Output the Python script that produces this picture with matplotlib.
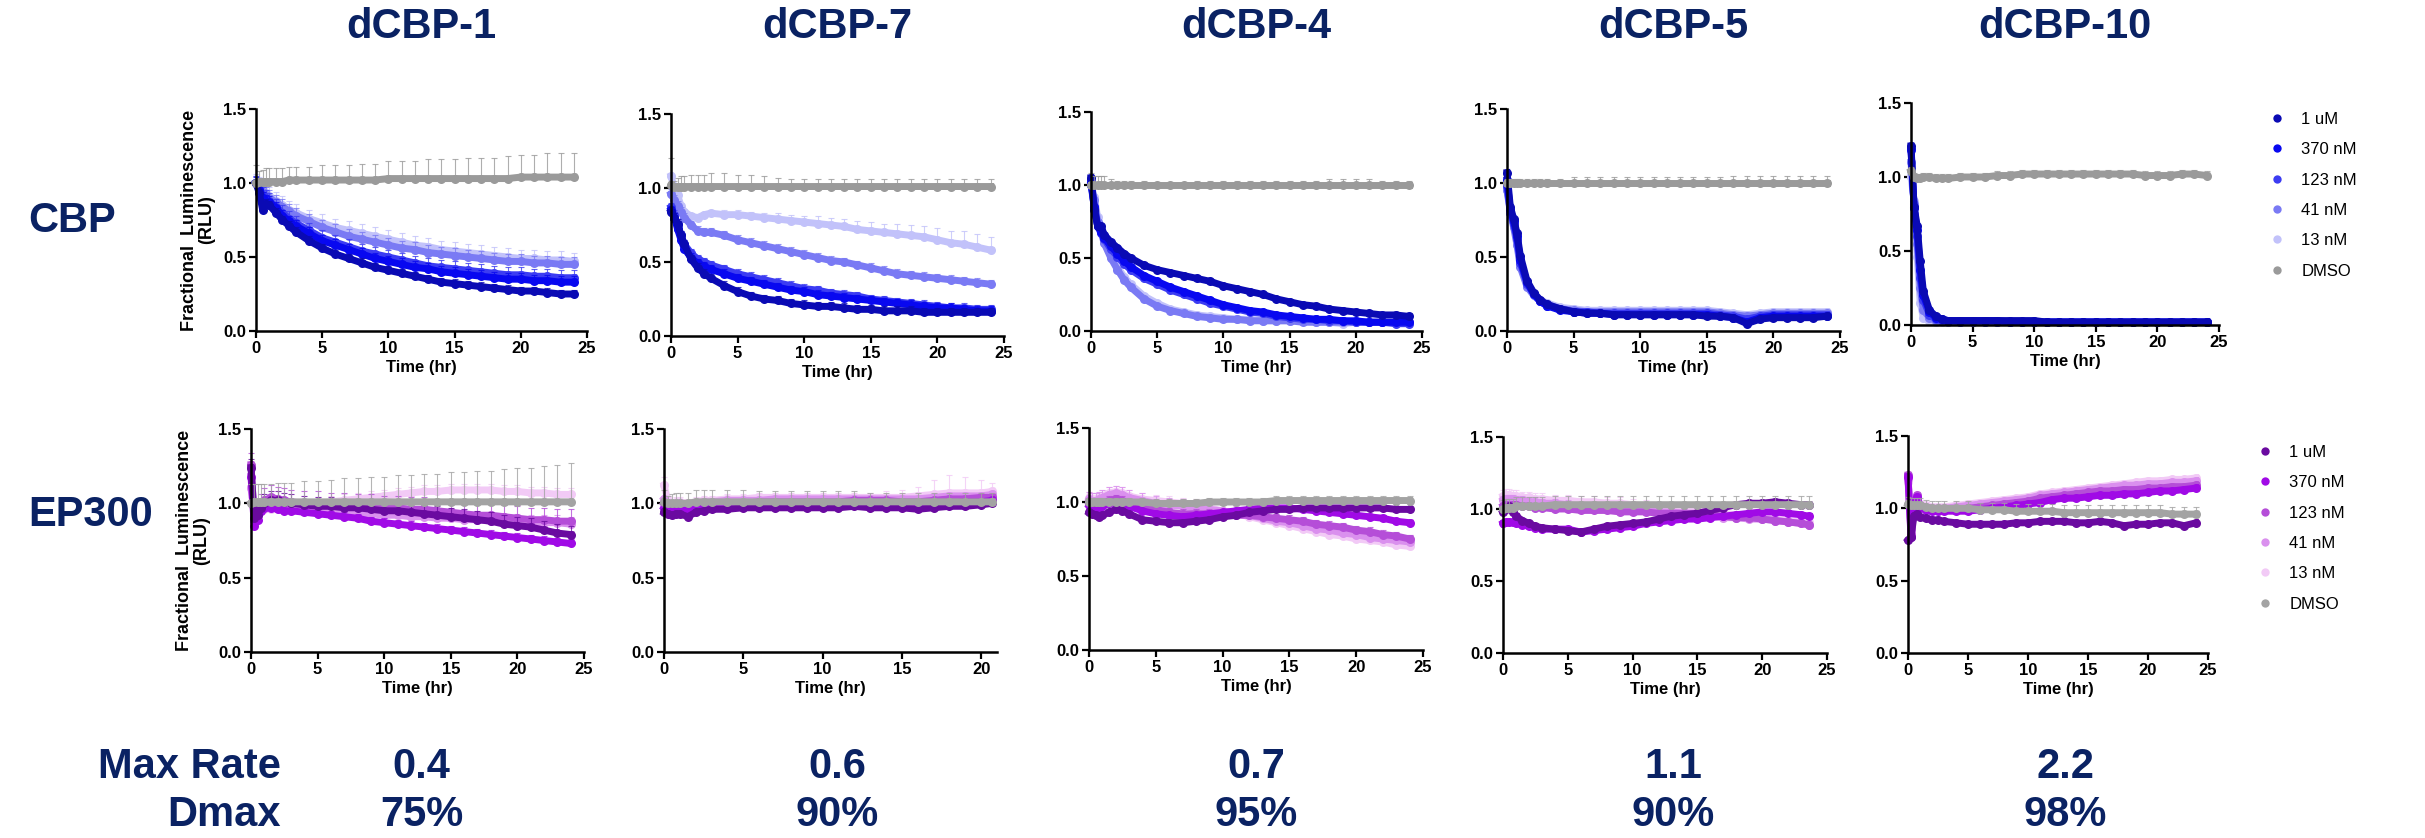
import numpy as np
import matplotlib
matplotlib.use('Agg')
import matplotlib.pyplot as plt
from matplotlib.lines import Line2D

plt.rcParams['font.family'] = ['Liberation Sans', 'DejaVu Sans']

# ---- labels ----
compounds = ['dCBP-1', 'dCBP-7', 'dCBP-4', 'dCBP-5', 'dCBP-10']
max_rate = ['0.4', '0.6', '0.7', '1.1', '2.2']
dmax = ['75%', '90%', '95%', '90%', '98%']
doses = ['1 uM', '370 nM', '123 nM', '41 nM', '13 nM', 'DMSO']

# ---- time points (hr) ----
t_all = [0, 0.25, 0.5, 0.75, 1, 1.5, 2, 2.5, 3, 4, 5, 6, 7, 8, 9, 10, 11, 12,
         13, 14, 15, 16, 17, 18, 19, 20, 21, 22, 23, 24]
t_ep300_d7 = [0, 0.25, 0.5, 0.75, 1, 1.5, 2, 2.5, 3, 4, 5, 6, 7, 8, 9, 10, 11,
              12, 13, 14, 15, 16, 17, 18, 19, 20, 20.7]
t_ep300_d5 = [0, 0.25, 0.5, 0.75, 1, 1.5, 2, 2.5, 3, 4, 5, 6, 7, 8, 9, 10, 11,
              12, 13, 14, 15, 16, 17, 18, 19, 20, 21, 22, 23, 23.6]

# ---- CBP row (rows: 1 uM, 370 nM, 123 nM, 41 nM, 13 nM, DMSO) ----
cbp_d1 = [
    [1.00, 0.93, 0.82, 0.86, 0.85, 0.80, 0.75, 0.71, 0.67, 0.61, 0.56, 0.52, 0.49, 0.46, 0.43,
     0.41, 0.39, 0.37, 0.35, 0.33, 0.32, 0.31, 0.30, 0.29, 0.28, 0.27, 0.27, 0.26, 0.25, 0.25],
    [1.00, 0.95, 0.90, 0.88, 0.87, 0.83, 0.78, 0.74, 0.71, 0.66, 0.61, 0.58, 0.55, 0.52, 0.49,
     0.47, 0.45, 0.43, 0.42, 0.40, 0.39, 0.38, 0.37, 0.36, 0.35, 0.35, 0.34, 0.34, 0.33, 0.33],
    [1.00, 0.96, 0.92, 0.90, 0.88, 0.84, 0.80, 0.76, 0.73, 0.68, 0.63, 0.60, 0.57, 0.54, 0.52,
     0.50, 0.48, 0.46, 0.44, 0.43, 0.42, 0.41, 0.40, 0.39, 0.38, 0.38, 0.37, 0.37, 0.36, 0.36],
    [1.00, 0.97, 0.94, 0.92, 0.90, 0.87, 0.84, 0.81, 0.78, 0.74, 0.70, 0.67, 0.64, 0.62, 0.60,
     0.58, 0.56, 0.55, 0.53, 0.52, 0.51, 0.50, 0.49, 0.48, 0.47, 0.47, 0.46, 0.46, 0.45, 0.45],
    [1.00, 0.98, 0.95, 0.93, 0.91, 0.88, 0.85, 0.82, 0.80, 0.76, 0.73, 0.70, 0.68, 0.66, 0.64,
     0.62, 0.60, 0.58, 0.57, 0.55, 0.54, 0.53, 0.52, 0.51, 0.50, 0.49, 0.49, 0.48, 0.48, 0.47],
    [1.00, 1.01, 1.01, 1.01, 1.01, 1.01, 1.01, 1.02, 1.02, 1.02, 1.02, 1.02, 1.02, 1.02, 1.02,
     1.03, 1.03, 1.03, 1.03, 1.03, 1.03, 1.03, 1.03, 1.03, 1.03, 1.04, 1.04, 1.04, 1.04, 1.04],
]
cbp_d1_err = [0.03, 0.04, 0.05, 0.05, 0.06,
              [0.12, 0.07, 0.08, 0.09, 0.09, 0.09, 0.09, 0.09, 0.09, 0.09, 0.10, 0.10, 0.10, 0.11, 0.11,
               0.12, 0.12, 0.12, 0.13, 0.13, 0.13, 0.14, 0.14, 0.14, 0.15, 0.15, 0.15, 0.16, 0.16, 0.16]]

cbp_d7 = [
    [0.84, 0.80, 0.76, 0.68, 0.62, 0.52, 0.46, 0.42, 0.39, 0.34, 0.30, 0.27, 0.25, 0.24, 0.22,
     0.21, 0.20, 0.20, 0.19, 0.18, 0.18, 0.17, 0.17, 0.17, 0.16, 0.16, 0.16, 0.16, 0.16, 0.16],
    [0.85, 0.80, 0.72, 0.65, 0.59, 0.53, 0.49, 0.47, 0.45, 0.42, 0.39, 0.37, 0.35, 0.33, 0.31,
     0.30, 0.28, 0.27, 0.26, 0.25, 0.24, 0.23, 0.22, 0.21, 0.20, 0.19, 0.19, 0.18, 0.17, 0.17],
    [0.87, 0.82, 0.75, 0.68, 0.62, 0.56, 0.52, 0.50, 0.48, 0.45, 0.42, 0.40, 0.38, 0.36, 0.34,
     0.32, 0.31, 0.29, 0.28, 0.27, 0.25, 0.24, 0.23, 0.22, 0.21, 0.20, 0.19, 0.19, 0.18, 0.18],
    [0.96, 0.92, 0.88, 0.84, 0.80, 0.75, 0.71, 0.70, 0.70, 0.68, 0.65, 0.63, 0.61, 0.59, 0.57,
     0.55, 0.53, 0.51, 0.50, 0.48, 0.46, 0.44, 0.42, 0.41, 0.40, 0.39, 0.38, 0.37, 0.36, 0.35],
    [1.08, 1.00, 0.95, 0.88, 0.84, 0.81, 0.80, 0.82, 0.83, 0.82, 0.82, 0.81, 0.80, 0.79, 0.78,
     0.77, 0.76, 0.75, 0.74, 0.72, 0.71, 0.70, 0.69, 0.68, 0.67, 0.65, 0.63, 0.62, 0.60, 0.58],
    [1.02, 1.01, 1.01, 1.01, 1.01, 1.01, 1.01, 1.01, 1.01, 1.01, 1.01, 1.01, 1.01, 1.01, 1.01,
     1.01, 1.01, 1.01, 1.01, 1.01, 1.01, 1.01, 1.01, 1.01, 1.01, 1.01, 1.01, 1.01, 1.01, 1.01],
]
cbp_d7_err = [0.03, 0.03, 0.03, 0.03,
              [0.02, 0.02, 0.02, 0.02, 0.02, 0.02, 0.02, 0.02, 0.02, 0.03, 0.03, 0.03, 0.03, 0.04, 0.04,
               0.04, 0.05, 0.05, 0.05, 0.06, 0.06, 0.06, 0.07, 0.07, 0.07, 0.08, 0.08, 0.09, 0.09, 0.09],
              [0.18, 0.04, 0.06, 0.07, 0.07, 0.08, 0.08, 0.08, 0.09, 0.09, 0.08, 0.08, 0.07, 0.06, 0.05,
               0.05, 0.05, 0.05, 0.05, 0.05, 0.05, 0.05, 0.05, 0.05, 0.05, 0.05, 0.05, 0.05, 0.05, 0.05]]

cbp_d4 = [
    [1.05, 0.83, 0.72, 0.72, 0.66, 0.61, 0.57, 0.53, 0.50, 0.45, 0.42, 0.40, 0.38, 0.36, 0.34,
     0.31, 0.29, 0.27, 0.25, 0.22, 0.20, 0.18, 0.17, 0.15, 0.14, 0.13, 0.12, 0.11, 0.11, 0.10],
    [1.02, 0.85, 0.72, 0.68, 0.64, 0.58, 0.53, 0.48, 0.44, 0.38, 0.34, 0.30, 0.27, 0.24, 0.21,
     0.18, 0.16, 0.14, 0.13, 0.11, 0.10, 0.09, 0.08, 0.08, 0.07, 0.07, 0.06, 0.06, 0.06, 0.06],
    [1.00, 0.85, 0.72, 0.67, 0.63, 0.56, 0.51, 0.46, 0.42, 0.36, 0.32, 0.28, 0.25, 0.22, 0.19,
     0.17, 0.15, 0.13, 0.12, 0.10, 0.09, 0.08, 0.08, 0.07, 0.07, 0.06, 0.06, 0.06, 0.05, 0.05],
    [1.00, 0.90, 0.75, 0.68, 0.60, 0.50, 0.42, 0.35, 0.30, 0.22, 0.17, 0.14, 0.12, 0.10, 0.09,
     0.08, 0.08, 0.07, 0.07, 0.07, 0.07, 0.06, 0.06, 0.06, 0.06, 0.06, 0.06, 0.06, 0.06, 0.06],
    [1.00, 0.92, 0.78, 0.70, 0.62, 0.52, 0.44, 0.37, 0.32, 0.24, 0.19, 0.15, 0.13, 0.11, 0.10,
     0.09, 0.08, 0.08, 0.07, 0.07, 0.07, 0.07, 0.06, 0.06, 0.05, 0.06, 0.06, 0.06, 0.06, 0.06],
    [1.00, 1.00, 1.00, 1.00, 1.00, 1.00, 1.00, 1.00, 1.00, 1.00, 1.00, 1.00, 1.00, 1.00, 1.00,
     1.00, 1.00, 1.00, 1.00, 1.00, 1.00, 1.00, 1.00, 1.00, 1.00, 1.00, 1.00, 1.00, 1.00, 1.00],
]
cbp_d4_err = [0.01, 0.01, 0.01, 0.01, 0.01,
              [0.08, 0.06, 0.06, 0.06, 0.06, 0.04, 0.03, 0.03, 0.03, 0.03, 0.02, 0.02, 0.02, 0.03, 0.03,
               0.03, 0.03, 0.03, 0.03, 0.03, 0.03, 0.03, 0.03, 0.04, 0.04, 0.04, 0.04, 0.03, 0.03, 0.03]]

cbp_d5 = [
    [1.07, 0.84, 0.76, 0.66, 0.51, 0.34, 0.26, 0.21, 0.18, 0.15, 0.13, 0.12, 0.12, 0.11, 0.11,
     0.11, 0.11, 0.11, 0.11, 0.11, 0.10, 0.10, 0.09, 0.05, 0.08, 0.09, 0.09, 0.09, 0.09, 0.10],
    [1.02, 0.82, 0.74, 0.64, 0.48, 0.33, 0.25, 0.20, 0.17, 0.14, 0.13, 0.12, 0.12, 0.11, 0.11,
     0.11, 0.11, 0.11, 0.11, 0.11, 0.11, 0.10, 0.09, 0.06, 0.09, 0.10, 0.10, 0.10, 0.10, 0.10],
    [0.98, 0.80, 0.72, 0.62, 0.46, 0.32, 0.25, 0.20, 0.17, 0.15, 0.13, 0.13, 0.12, 0.12, 0.12,
     0.12, 0.12, 0.12, 0.12, 0.12, 0.12, 0.11, 0.10, 0.08, 0.10, 0.11, 0.11, 0.11, 0.11, 0.11],
    [0.95, 0.80, 0.70, 0.58, 0.43, 0.30, 0.24, 0.20, 0.18, 0.15, 0.14, 0.13, 0.13, 0.13, 0.13,
     0.13, 0.13, 0.13, 0.13, 0.13, 0.13, 0.12, 0.11, 0.10, 0.11, 0.12, 0.12, 0.12, 0.12, 0.12],
    [0.95, 0.82, 0.72, 0.60, 0.45, 0.31, 0.25, 0.21, 0.19, 0.16, 0.15, 0.14, 0.14, 0.14, 0.14,
     0.14, 0.14, 0.14, 0.14, 0.14, 0.14, 0.13, 0.12, 0.11, 0.12, 0.13, 0.13, 0.13, 0.13, 0.13],
    [1.00, 1.00, 1.00, 1.00, 1.00, 1.00, 1.00, 1.00, 1.00, 1.00, 1.00, 1.00, 1.00, 1.00, 1.00,
     1.00, 1.00, 1.00, 1.00, 1.00, 1.00, 1.00, 1.00, 1.00, 1.00, 1.00, 1.00, 1.00, 1.00, 1.00],
]
cbp_d5_err = [0.01, 0.01, 0.01, 0.01, 0.01,
              [0.03, 0.03, 0.03, 0.03, 0.03, 0.03, 0.03, 0.03, 0.03, 0.03, 0.04, 0.04, 0.04, 0.04, 0.04,
               0.04, 0.04, 0.04, 0.04, 0.04, 0.04, 0.04, 0.05, 0.05, 0.05, 0.05, 0.05, 0.05, 0.05, 0.05]]

cbp_d10 = [
    [1.21, 0.80, 0.67, 0.43, 0.23, 0.10, 0.06, 0.04, 0.03, 0.03, 0.03, 0.03, 0.03, 0.03, 0.03,
     0.03, 0.02, 0.02, 0.02, 0.02, 0.02, 0.02, 0.02, 0.02, 0.02, 0.02, 0.02, 0.02, 0.02, 0.02],
    [1.19, 0.79, 0.64, 0.37, 0.20, 0.09, 0.05, 0.04, 0.03, 0.03, 0.03, 0.03, 0.03, 0.02, 0.02,
     0.02, 0.02, 0.02, 0.02, 0.02, 0.02, 0.02, 0.02, 0.02, 0.02, 0.02, 0.02, 0.02, 0.02, 0.02],
    [1.18, 0.80, 0.60, 0.32, 0.17, 0.07, 0.04, 0.03, 0.03, 0.02, 0.02, 0.02, 0.02, 0.02, 0.02,
     0.02, 0.02, 0.02, 0.02, 0.02, 0.02, 0.02, 0.02, 0.02, 0.02, 0.02, 0.02, 0.02, 0.02, 0.02],
    [1.10, 0.82, 0.55, 0.25, 0.10, 0.05, 0.03, 0.03, 0.02, 0.02, 0.02, 0.02, 0.02, 0.02, 0.02,
     0.02, 0.02, 0.02, 0.02, 0.02, 0.02, 0.02, 0.02, 0.02, 0.02, 0.02, 0.02, 0.02, 0.02, 0.02],
    [1.00, 0.84, 0.46, 0.15, 0.05, 0.03, 0.02, 0.02, 0.02, 0.02, 0.02, 0.02, 0.02, 0.02, 0.02,
     0.02, 0.02, 0.02, 0.02, 0.02, 0.02, 0.02, 0.02, 0.02, 0.02, 0.02, 0.02, 0.02, 0.02, 0.02],
    [1.04, 1.00, 0.99, 0.99, 1.00, 1.00, 0.99, 0.99, 0.99, 1.00, 1.00, 1.00, 1.01, 1.01, 1.02,
     1.02, 1.02, 1.02, 1.02, 1.02, 1.02, 1.02, 1.02, 1.02, 1.01, 1.01, 1.01, 1.02, 1.02, 1.01],
]
cbp_d10_err = [0.01, 0.01, 0.02, 0.02, 0.01, 0.03]

# ---- EP300 row ----
ep300_d1 = [
    [1.24, 0.90, 0.92, 0.97, 1.00, 1.02, 1.02, 1.01, 1.00, 0.99, 0.98, 0.98, 0.97, 0.97, 0.96,
     0.95, 0.95, 0.94, 0.93, 0.92, 0.91, 0.90, 0.89, 0.88, 0.86, 0.85, 0.84, 0.82, 0.80, 0.79],
    [1.18, 0.85, 0.89, 0.95, 0.97, 0.97, 0.96, 0.95, 0.95, 0.94, 0.93, 0.92, 0.91, 0.90, 0.88,
     0.87, 0.86, 0.85, 0.84, 0.83, 0.82, 0.81, 0.80, 0.79, 0.78, 0.77, 0.76, 0.75, 0.74, 0.73],
    [1.26, 0.88, 0.92, 0.98, 1.02, 1.04, 1.03, 1.02, 1.01, 1.00, 1.00, 0.99, 0.99, 0.98, 0.98,
     0.97, 0.97, 0.96, 0.96, 0.95, 0.94, 0.93, 0.92, 0.92, 0.91, 0.90, 0.89, 0.89, 0.88, 0.88],
    [1.10, 0.92, 0.93, 0.96, 0.98, 0.98, 0.97, 0.96, 0.96, 0.95, 0.95, 0.94, 0.94, 0.93, 0.93,
     0.92, 0.92, 0.91, 0.91, 0.90, 0.90, 0.89, 0.89, 0.88, 0.88, 0.88, 0.87, 0.87, 0.87, 0.86],
    [1.00, 0.95, 0.94, 0.95, 0.96, 0.96, 0.96, 0.97, 0.98, 0.99, 1.00, 1.01, 1.02, 1.03, 1.04,
     1.05, 1.06, 1.07, 1.08, 1.08, 1.09, 1.09, 1.09, 1.09, 1.08, 1.08, 1.07, 1.07, 1.06, 1.06],
    [1.00, 1.01, 1.01, 1.01, 1.01, 1.01, 1.01, 1.01, 1.01, 1.01, 1.01, 1.01, 1.01, 1.01, 1.01,
     1.01, 1.01, 1.01, 1.01, 1.01, 1.01, 1.01, 1.01, 1.01, 1.01, 1.01, 1.01, 1.01, 1.01, 1.01],
]
ep300_d1_err = [0.06, 0.03, 0.08, 0.05, 0.04,
                [0.13, 0.12, 0.12, 0.12, 0.12, 0.12, 0.13, 0.13, 0.13, 0.14, 0.14, 0.15, 0.16, 0.16, 0.17,
                 0.17, 0.18, 0.18, 0.19, 0.19, 0.20, 0.20, 0.21, 0.21, 0.22, 0.23, 0.23, 0.24, 0.25, 0.26]]

ep300_d7 = [
    [0.94, 0.93, 0.92, 0.93, 0.93, 0.91, 0.94, 0.95, 0.96, 0.96, 0.97, 0.97, 0.97, 0.97, 0.97,
     0.97, 0.97, 0.98, 0.97, 0.97, 0.97, 0.96, 0.97, 0.98, 0.98, 0.99, 1.00],
    [0.97, 0.95, 0.96, 0.97, 0.96, 0.95, 0.97, 0.98, 0.98, 0.98, 0.99, 0.99, 0.99, 0.99, 0.99,
     0.99, 0.99, 1.00, 0.99, 0.99, 0.99, 0.99, 1.00, 1.00, 1.01, 1.01, 1.02],
    [1.00, 0.98, 0.98, 0.99, 0.98, 0.97, 0.99, 1.00, 1.00, 1.00, 1.00, 1.01, 1.01, 1.01, 1.01,
     1.01, 1.01, 1.02, 1.02, 1.02, 1.01, 1.01, 1.02, 1.03, 1.03, 1.04, 1.04],
    [1.03, 1.00, 0.99, 1.00, 1.00, 0.99, 1.00, 1.01, 1.01, 1.02, 1.02, 1.02, 1.03, 1.03, 1.03,
     1.03, 1.03, 1.03, 1.03, 1.03, 1.03, 1.03, 1.04, 1.05, 1.05, 1.05, 1.06],
    [1.12, 1.02, 1.00, 1.01, 1.01, 1.00, 1.01, 1.02, 1.02, 1.03, 1.03, 1.04, 1.04, 1.04, 1.04,
     1.04, 1.04, 1.04, 1.04, 1.04, 1.04, 1.05, 1.06, 1.07, 1.07, 1.07, 1.08],
    [1.01, 1.00, 1.00, 1.00, 1.00, 1.00, 1.01, 1.01, 1.01, 1.01, 1.01, 1.01, 1.01, 1.01, 1.01,
     1.01, 1.01, 1.01, 1.01, 1.01, 1.01, 1.01, 1.01, 1.01, 1.01, 1.01, 1.01],
]
ep300_d7_err = [0.01, 0.01, 0.01, 0.02,
                [0.06, 0.03, 0.03, 0.03, 0.03, 0.03, 0.03, 0.03, 0.03, 0.03, 0.03, 0.03, 0.03, 0.03, 0.03,
                 0.03, 0.03, 0.03, 0.03, 0.04, 0.05, 0.06, 0.10, 0.12, 0.11, 0.09, 0.06],
                [0.08, 0.05, 0.06, 0.07, 0.07, 0.07, 0.08, 0.08, 0.08, 0.08, 0.08, 0.07, 0.07, 0.07, 0.07,
                 0.07, 0.07, 0.07, 0.06, 0.06, 0.06, 0.06, 0.06, 0.06, 0.06, 0.06, 0.06]]

ep300_d4 = [
    [0.93, 0.92, 0.91, 0.90, 0.91, 0.93, 0.95, 0.94, 0.92, 0.88, 0.87, 0.86, 0.86, 0.87, 0.88,
     0.90, 0.91, 0.93, 0.94, 0.95, 0.95, 0.96, 0.96, 0.96, 0.96, 0.96, 0.96, 0.96, 0.95, 0.95],
    [0.98, 0.97, 0.96, 0.96, 0.97, 0.99, 1.00, 0.99, 0.97, 0.94, 0.92, 0.91, 0.90, 0.91, 0.92,
     0.93, 0.94, 0.95, 0.96, 0.96, 0.96, 0.95, 0.94, 0.93, 0.92, 0.91, 0.90, 0.89, 0.87, 0.86],
    [1.00, 0.99, 0.98, 0.98, 0.99, 1.01, 1.02, 1.01, 0.99, 0.97, 0.95, 0.93, 0.92, 0.92, 0.92,
     0.92, 0.91, 0.91, 0.90, 0.89, 0.88, 0.87, 0.85, 0.84, 0.83, 0.81, 0.80, 0.78, 0.77, 0.75],
    [1.02, 1.01, 1.01, 1.02, 1.03, 1.05, 1.06, 1.05, 1.03, 1.01, 0.99, 0.98, 0.97, 0.96, 0.95,
     0.94, 0.92, 0.91, 0.89, 0.87, 0.86, 0.84, 0.82, 0.81, 0.79, 0.78, 0.76, 0.75, 0.74, 0.73],
    [1.03, 1.02, 1.02, 1.03, 1.04, 1.06, 1.07, 1.06, 1.04, 1.02, 1.01, 1.00, 0.99, 0.98, 0.96,
     0.94, 0.92, 0.90, 0.88, 0.86, 0.84, 0.82, 0.80, 0.78, 0.77, 0.75, 0.74, 0.73, 0.71, 0.70],
    [1.00, 1.00, 1.00, 1.00, 1.00, 1.00, 1.00, 1.00, 1.00, 1.00, 0.99, 0.99, 0.99, 0.99, 1.00,
     1.00, 1.00, 1.00, 1.00, 1.01, 1.01, 1.01, 1.01, 1.01, 1.01, 1.01, 1.01, 1.01, 1.01, 1.01],
]
ep300_d4_err = [0.01, 0.02, 0.03, 0.05, 0.04, 0.03]

ep300_d5 = [
    [0.98, 1.00, 1.02, 0.98, 0.95, 0.92, 0.90, 0.88, 0.87, 0.86, 0.85, 0.84, 0.86, 0.88, 0.89,
     0.90, 0.91, 0.93, 0.95, 0.96, 0.97, 0.99, 1.01, 1.03, 1.04, 1.04, 1.05, 1.04, 1.03, 1.03],
    [0.90, 0.91, 0.91, 0.91, 0.90, 0.89, 0.88, 0.87, 0.86, 0.86, 0.86, 0.84, 0.85, 0.86, 0.87,
     0.88, 0.90, 0.91, 0.92, 0.93, 0.93, 0.94, 0.95, 0.96, 0.97, 0.98, 0.98, 0.97, 0.96, 0.95],
    [1.02, 1.03, 1.03, 1.03, 1.03, 1.02, 1.02, 1.01, 1.01, 1.00, 1.00, 0.99, 0.99, 0.99, 0.98,
     0.98, 0.98, 0.97, 0.97, 0.97, 0.97, 0.96, 0.95, 0.94, 0.94, 0.93, 0.92, 0.91, 0.90, 0.89],
    [1.06, 1.07, 1.07, 1.07, 1.06, 1.06, 1.05, 1.05, 1.04, 1.04, 1.03, 1.02, 1.02, 1.01, 1.01,
     1.00, 0.99, 0.98, 0.98, 0.97, 0.96, 0.95, 0.94, 0.94, 0.93, 0.93, 0.92, 0.91, 0.90, 0.89],
    [1.09, 1.10, 1.10, 1.09, 1.09, 1.08, 1.08, 1.07, 1.07, 1.06, 1.06, 1.05, 1.05, 1.04, 1.04,
     1.03, 1.02, 1.01, 1.00, 1.00, 0.99, 0.98, 0.97, 0.96, 0.95, 0.95, 0.94, 0.93, 0.92, 0.91],
    [1.00, 1.01, 1.01, 1.01, 1.02, 1.02, 1.02, 1.02, 1.02, 1.03, 1.03, 1.03, 1.03, 1.03, 1.03,
     1.03, 1.03, 1.03, 1.03, 1.03, 1.03, 1.03, 1.03, 1.03, 1.03, 1.03, 1.03, 1.03, 1.03, 1.03],
]
ep300_d5_err = [0.02, 0.02, 0.02, 0.03, 0.04, 0.06]

ep300_d10 = [
    [0.78, 0.80, 0.95, 0.96, 0.94, 0.93, 0.92, 0.92, 0.91, 0.90, 0.89, 0.89, 0.89, 0.89, 0.90,
     0.90, 0.91, 0.91, 0.91, 0.90, 0.90, 0.91, 0.90, 0.88, 0.89, 0.89, 0.90, 0.90, 0.88, 0.90],
    [1.22, 0.80, 1.00, 1.08, 1.00, 0.99, 0.98, 0.98, 0.98, 0.98, 0.98, 0.99, 1.00, 1.01, 1.02,
     1.03, 1.04, 1.06, 1.07, 1.07, 1.08, 1.09, 1.09, 1.10, 1.10, 1.11, 1.12, 1.12, 1.13, 1.14],
    [1.23, 0.82, 1.01, 1.09, 1.01, 1.00, 0.99, 0.99, 0.99, 0.99, 1.00, 1.01, 1.02, 1.03, 1.04,
     1.05, 1.07, 1.08, 1.09, 1.10, 1.11, 1.12, 1.12, 1.13, 1.13, 1.14, 1.14, 1.15, 1.15, 1.16],
    [1.20, 0.85, 1.02, 1.08, 1.02, 1.01, 1.00, 1.00, 1.00, 1.01, 1.02, 1.03, 1.04, 1.05, 1.06,
     1.07, 1.09, 1.10, 1.11, 1.12, 1.13, 1.14, 1.15, 1.16, 1.16, 1.17, 1.17, 1.18, 1.18, 1.19],
    [1.18, 0.88, 1.03, 1.07, 1.03, 1.02, 1.01, 1.01, 1.01, 1.02, 1.03, 1.04, 1.05, 1.06, 1.07,
     1.08, 1.10, 1.11, 1.12, 1.13, 1.14, 1.15, 1.16, 1.17, 1.18, 1.19, 1.19, 1.20, 1.20, 1.21],
    [1.03, 1.02, 1.02, 1.02, 1.02, 1.01, 1.00, 1.00, 1.00, 1.00, 1.00, 0.99, 0.99, 0.99, 0.98,
     0.98, 0.98, 0.98, 0.97, 0.97, 0.97, 0.97, 0.97, 0.97, 0.97, 0.97, 0.97, 0.96, 0.96, 0.96],
]
ep300_d10_err = [0.01, 0.02, 0.02, 0.02, 0.02, 0.05]

# ---- styling / layout ----
navy = '#0a2263'
cbp_colors = ['#0a0ab4', '#0808f0', '#3c3cf2', '#7a7af4', '#c2c2fa', '#9a9a9a']
ep_colors = ['#6a0aa0', '#a00ae6', '#b54ed8', '#da90ee', '#f2caf6', '#a3a3a3']

W, H = 2425, 838
# axes boxes in pixels: left, right, bottom(y=0), top(y=1.5)
boxes_cbp = [(256, 587, 331, 109), (671, 1004, 336, 114), (1091, 1422, 331, 112),
             (1507, 1840, 331, 109), (1911, 2219, 325, 103)]
boxes_ep = [(251, 584, 652, 429), (664, 997, 652, 429), (1089, 1423, 650, 428),
            (1503, 1827, 653, 437), (1908, 2208, 653, 436)]

panels = [
    (boxes_cbp[0], t_all, cbp_d1, cbp_d1_err, cbp_colors, 25),
    (boxes_cbp[1], t_all, cbp_d7, cbp_d7_err, cbp_colors, 25),
    (boxes_cbp[2], t_all, cbp_d4, cbp_d4_err, cbp_colors, 25),
    (boxes_cbp[3], t_all, cbp_d5, cbp_d5_err, cbp_colors, 25),
    (boxes_cbp[4], t_all, cbp_d10, cbp_d10_err, cbp_colors, 25),
    (boxes_ep[0], t_all, ep300_d1, ep300_d1_err, ep_colors, 25),
    (boxes_ep[1], t_ep300_d7, ep300_d7, ep300_d7_err, ep_colors, 21),
    (boxes_ep[2], t_all, ep300_d4, ep300_d4_err, ep_colors, 25),
    (boxes_ep[3], t_ep300_d5, ep300_d5, ep300_d5_err, ep_colors, 25),
    (boxes_ep[4], t_all, ep300_d10, ep300_d10_err, ep_colors, 25),
]

fig = plt.figure(figsize=(W / 100, H / 100), dpi=100)

axes = []
for k, (box, tt, series, errs, colors, xmax) in enumerate(panels):
    l, r, b, tp = box
    ax = fig.add_axes([l / W, 1 - b / H, (r - l) / W, (b - tp) / H])
    axes.append(ax)
    tt = np.array(tt)
    # light doses at the back, DMSO on top
    for i in [4, 3, 2, 1, 0, 5]:
        y = np.array(series[i])
        e = np.broadcast_to(np.array(errs[i], dtype=float), y.shape)
        ax.errorbar(tt, y, yerr=[np.zeros_like(y), e], fmt='none', ecolor=colors[i],
                    elinewidth=0.8, capsize=2.5, capthick=0.8, alpha=0.8, clip_on=False)
        ax.plot(tt, y, '-o', color=colors[i], lw=5, ms=6.5, mew=0, clip_on=False)
    ax.set_xlim(0, xmax)
    ax.set_ylim(0, 1.5)
    ax.set_xticks(range(0, xmax + 1, 5))
    ax.set_yticks([0, 0.5, 1.0, 1.5])
    ax.set_yticklabels(['0.0', '0.5', '1.0', '1.5'])
    for s in ['top', 'right']:
        ax.spines[s].set_visible(False)
    for s in ['left', 'bottom']:
        ax.spines[s].set_linewidth(1.8)
    ax.tick_params(direction='out', length=5, width=1.6, labelsize=12, pad=2)
    for lab in ax.get_xticklabels() + ax.get_yticklabels():
        lab.set_fontweight('bold')
    ax.set_xlabel('Time (hr)', fontsize=12, fontweight='bold', labelpad=3)
    if k in (0, 5):
        ax.set_ylabel('Fractional  Luminescence\n(RLU)', fontsize=13, fontweight='bold',
                      labelpad=6, linespacing=1.0)

# legends
for ax, colors, (lx, ly) in [(axes[4], cbp_colors, (2272, 112)), (axes[9], ep_colors, (2260, 445))]:
    handles = [Line2D([], [], ls='none', marker='o', ms=6, mew=0, color=c) for c in colors]
    ax.legend(handles, doses, loc='upper left', bbox_to_anchor=(lx / W, 1 - ly / H),
              bbox_transform=fig.transFigure, frameon=False, fontsize=12,
              handlelength=0.6, handletextpad=1.15, labelspacing=0.92,
              borderpad=0, borderaxespad=0)

# titles, row labels and summary numbers
centers = [(b[0] + b[1]) / 2 for b in boxes_cbp]
for cx, name, mr, dm in zip(centers, compounds, max_rate, dmax):
    fig.text(cx / W, 1 - 27 / H, name, ha='center', va='center', fontsize=30,
             fontweight='bold', color=navy)
    fig.text(cx / W, 1 - 767 / H, mr, ha='center', va='center', fontsize=30,
             fontweight='bold', color=navy)
    fig.text(cx / W, 1 - 815 / H, dm, ha='center', va='center', fontsize=30,
             fontweight='bold', color=navy)

fig.text(28 / W, 1 - 221 / H, 'CBP', ha='left', va='center', fontsize=30,
         fontweight='bold', color=navy)
fig.text(28 / W, 1 - 515 / H, 'EP300', ha='left', va='center', fontsize=30,
         fontweight='bold', color=navy)
fig.text(281 / W, 1 - 767 / H, 'Max Rate', ha='right', va='center', fontsize=30,
         fontweight='bold', color=navy)
fig.text(281 / W, 1 - 815 / H, 'Dmax', ha='right', va='center', fontsize=30,
         fontweight='bold', color=navy)

fig.savefig('out.png', dpi=100)
